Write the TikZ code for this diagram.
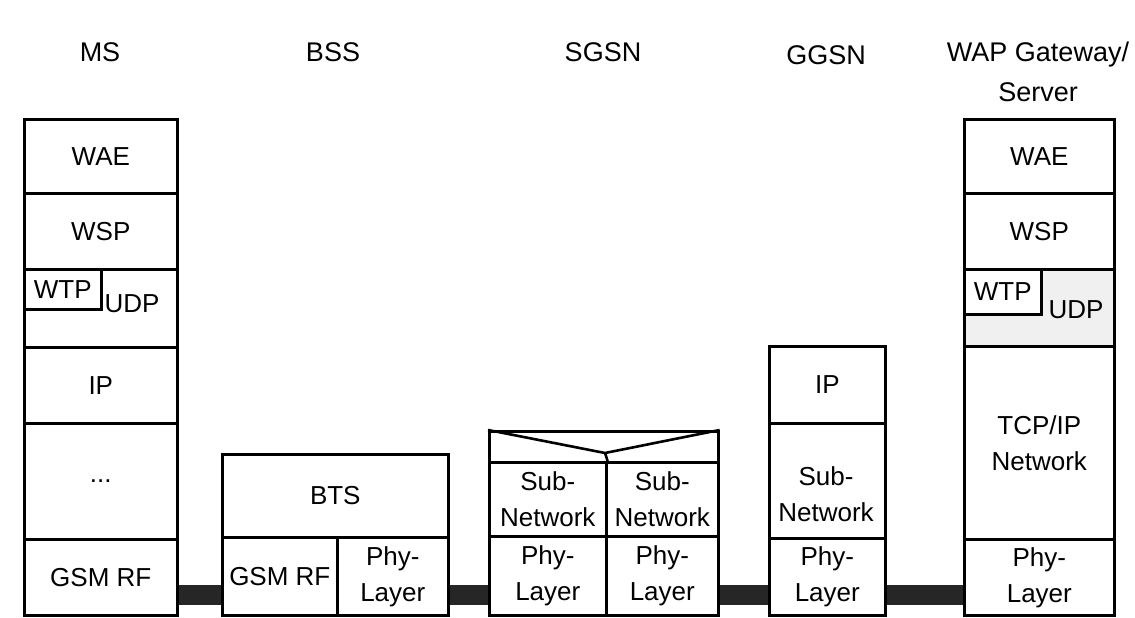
\documentclass[tikz,border=0pt]{standalone}
\usepackage{fontspec}
\setmainfont{Liberation Sans}
\begin{document}
\begin{tikzpicture}[x=1pt,y=-1pt,
  cell/.style={draw, line width=2.6pt, inner sep=0pt, anchor=north west, align=center, font=\fontsize{26}{36}\selectfont},
  lbl/.style={inner sep=0pt, align=center, font=\fontsize{26}{36}\selectfont},
  title/.style={inner sep=0pt, align=center, font=\fontsize{27}{40}\selectfont},
  bar/.style={line width=20pt, draw=black!85},
  thinline/.style={line width=2.6pt}
]
\useasboundingbox (0,0) rectangle (1135,618);
\coordinate (barline) at (0,595);
% titles
\node[title] (tms) at (100,52) {MS};
\node[title] (tbss) at (333,52) {BSS};
\node[title] (tsgsn) at (603,52) {SGSN};
\node[title] (tggsn) at (826,55) {GGSN};
\node[title] (twap) at (1038,72) {WAP Gateway/\\Server};
% MS stack
\node[cell, minimum width=153pt, minimum height=74pt] (mswae) at (23,118) {WAE};
\node[cell, minimum width=153pt, minimum height=76pt] (mswsp) at (23,192) {WSP};
\node[cell, minimum width=153pt, minimum height=78pt] (msudp) at (23,268) {};
\node[cell, minimum width=77pt, minimum height=40pt] (mswtp) at (23,268) {WTP};
\node[lbl] (msudplbl) at (132,304) {UDP};
\node[cell, minimum width=153pt, minimum height=76pt] (msip) at (23,346) {IP};
\node[cell, minimum width=153pt, minimum height=116pt] (msdots) at (23,422) {...};
\node[cell, minimum width=153pt, minimum height=76pt] (msrf) at (23,538) {GSM RF};
% BSS
\node[cell, minimum width=226pt, minimum height=83pt] (bts) at (221,453) {BTS};
\node[cell, minimum width=115pt, minimum height=78pt] (bssrf) at (221,536) {GSM RF};
\node[cell, minimum width=111pt, minimum height=78pt] (bssphy) at (336,536) {Phy-\\Layer};
% SGSN
\node[cell, minimum width=229pt, minimum height=31pt] (sgsntop) at (488,430) {};
\node[cell, minimum width=117pt, minimum height=74pt] (sgsnsub1) at (488,461) {Sub-\\Network};
\node[cell, minimum width=112pt, minimum height=74pt] (sgsnsub2) at (605,461) {Sub-\\Network};
\node[cell, minimum width=117pt, minimum height=79pt] (sgsnphy1) at (488,535) {Phy-\\Layer};
\node[cell, minimum width=112pt, minimum height=79pt] (sgsnphy2) at (605,535) {Phy-\\Layer};
\coordinate (vtip) at (605,453);
\draw[thinline] (sgsntop.north west) -- (vtip) -- (sgsntop.north east);
\draw[thinline] (vtip) -- (sgsnsub1.north east);
% GGSN
\node[cell, minimum width=116pt, minimum height=77pt] (ggsnip) at (768,345) {IP};
\node[cell, minimum width=116pt, minimum height=115pt] (ggsnsub) at (768,422) {};
\node[lbl] (ggsnsubl) at (826,494) {Sub-\\Network};
\node[cell, minimum width=116pt, minimum height=77pt] (ggsnphy) at (768,537) {Phy-\\Layer};
% WAP Gateway / Server
\node[cell, minimum width=150pt, minimum height=74pt] (wapwae) at (963,118) {WAE};
\node[cell, minimum width=150pt, minimum height=76pt] (wapwsp) at (963,192) {WSP};
\node[cell, minimum width=150pt, minimum height=77pt, fill=black!6] (wapudp) at (963,268) {};
\node[cell, minimum width=77pt, minimum height=45pt, fill=white] (wapwtp) at (963,268) {WTP};
\node[lbl] (wapudplbl) at (1076,310) {UDP};
\node[cell, minimum width=150pt, minimum height=193pt] (waptcp) at (963,345) {TCP/IP\\Network};
\node[cell, minimum width=150pt, minimum height=76pt] (wapphy) at (963,538) {Phy-\\Layer};
% links
\draw[bar] (msrf.east |- barline) -- (bssrf.west |- barline);
\draw[bar] (bssphy.east |- barline) -- (sgsnphy1.west |- barline);
\draw[bar] (sgsnphy2.east |- barline) -- (ggsnphy.west |- barline);
\draw[bar] (ggsnphy.east |- barline) -- (wapphy.west |- barline);
\end{tikzpicture}
\end{document}
